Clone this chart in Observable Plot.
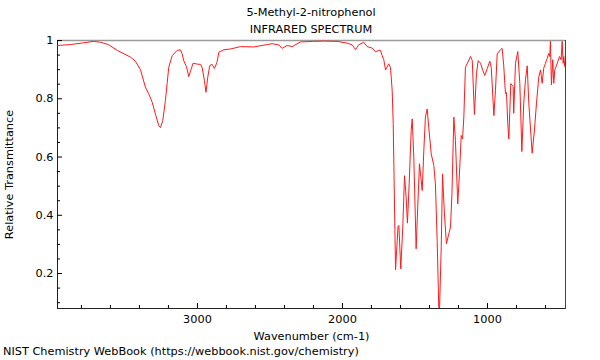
<!DOCTYPE html>
<html><head><meta charset="utf-8">
<script src="https://cdn.jsdelivr.net/npm/d3@7"></script>
<script src="https://cdn.jsdelivr.net/npm/@observablehq/plot@0.6"></script>
<style>
body{margin:0;background:#fff;font-family:"DejaVu Sans",sans-serif;color:#000}
#title{box-sizing:border-box;height:36px;width:600px;padding:4px 35px 0 57px;text-align:center;font-size:11.3px;line-height:17px;overflow:visible}
#caption{box-sizing:border-box;height:18px;padding:1px 0 0 3px;font-size:11.3px;line-height:17px;white-space:nowrap}
</style></head><body>
<div id="title"><div>5-Methyl-2-nitrophenol</div><div>INFRARED SPECTRUM</div></div>
<div id="chart"></div>
<div id="caption">NIST Chemistry WebBook (https://webbook.nist.gov/chemistry)</div>
<script>
const wavenumber = [3963,3876,3786,3717,3669,3614,3552,3462,3428,3393,
3359,3336,3312,3290,3267,3255,3239,3221,3209,3198,
3174,3140,3117,3106,3094,3076,3060,3045,3030,3002,
2979,2968,2952,2941,2929,2915,2899,2883,2866,2852,
2819,2772,2703,2612,2519,2485,2439,2416,2381,2347,
2290,2200,2131,2037,1968,1933,1910,1888,1853,1830,
1795,1772,1750,1738,1726,1715,1703,1681,1669,1657,
1650,1641,1634,1617,1611,1598,1584,1572,1561,1552,
1540,1526,1519,1508,1492,1481,1469,1450,1439,1428,
1416,1405,1388,1370,1359,1347,1336,1331,1319,1310,
1297,1283,1267,1255,1245,1232,1221,1205,1191,1181,
1172,1163,1152,1136,1117,1105,1090,1076,1064,1048,
1032,1019,1002,984,974,956,945,933,910,899,
888,876,869,860,853,839,823,819,807,791,
777,763,750,738,726,715,692,676,662,646,
634,623,612,600,588,577,570,566,559,550,
543,536,526,515,503,492,485,478,474,467,
462];
const transmittance = [0.983,0.986,0.992,0.997,0.994,0.986,0.966,0.943,0.929,0.900,
0.840,0.817,0.788,0.748,0.708,0.701,0.725,0.794,0.852,0.908,
0.948,0.966,0.968,0.955,0.930,0.911,0.876,0.900,0.922,0.919,
0.918,0.908,0.863,0.822,0.874,0.914,0.918,0.904,0.924,0.960,
0.968,0.971,0.979,0.978,0.986,0.989,0.985,0.973,0.983,0.979,
0.995,0.997,0.998,0.997,0.991,0.985,0.969,0.985,0.994,0.979,
0.974,0.961,0.966,0.966,0.948,0.934,0.899,0.920,0.908,0.828,
0.715,0.428,0.213,0.361,0.365,0.216,0.359,0.536,0.462,0.373,
0.508,0.691,0.731,0.599,0.285,0.428,0.577,0.485,0.622,0.737,
0.765,0.702,0.611,0.571,0.508,0.313,0.084,0.073,0.290,0.542,
0.405,0.302,0.336,0.359,0.474,0.737,0.657,0.439,0.565,0.674,
0.662,0.737,0.908,0.925,0.945,0.931,0.746,0.886,0.931,0.922,
0.897,0.880,0.903,0.929,0.908,0.742,0.828,0.954,0.969,0.973,
0.914,0.818,0.821,0.714,0.662,0.852,0.842,0.750,0.922,0.962,
0.853,0.619,0.785,0.865,0.913,0.785,0.613,0.693,0.785,0.876,
0.899,0.853,0.905,0.922,0.939,0.956,0.945,0.997,0.848,0.934,
0.853,0.899,0.911,0.928,0.945,0.934,0.997,0.922,0.945,0.911,
0.934];
const xDomain = [3965, 462];
const yDomain = [0.08, 1];
const xMajor = [3000, 2000, 1000];
const xMinor = [3800, 3600, 3400, 3200, 2800, 2600, 2400, 2200, 1800, 1600, 1400, 1200, 800, 600];
const yMajor = [0.2, 0.4, 0.6, 0.8, 1];
const yMinor = [0.1, 0.15, 0.25, 0.3, 0.35, 0.45, 0.5, 0.55, 0.65, 0.7, 0.75, 0.85, 0.9, 0.95];
const xLabel = "Wavenumber (cm-1)";
const yLabel = "Relative Transmittance";

const spectrum = wavenumber.map((w, i) => ({w, t: transmittance[i]}));

const chart = Plot.plot({
  width: 600, height: 306,
  marginTop: 4, marginBottom: 34, marginLeft: 57, marginRight: 35,
  style: {fontFamily: "DejaVu Sans", fontSize: "11.3px", overflow: "visible", background: "white", color: "black"},
  x: {domain: xDomain, label: null},
  y: {domain: yDomain, label: null},
  marks: [
    Plot.frame({stroke: "#444"}),
    Plot.ruleY([yDomain[1]], {stroke: "#9a9a9a", strokeWidth: 1.6}),
    Plot.ruleY([yDomain[0]], {stroke: "#222"}),
    Plot.ruleX([xDomain[0]], {stroke: "#222"}),
    Plot.line(spectrum, {x: "w", y: "t", stroke: "#ff1a1a", strokeWidth: 1, clip: true}),
    Plot.axisX(xMinor, {anchor: "bottom", tickSize: -3, fill: "none", label: null}),
    Plot.axisX(xMajor, {anchor: "bottom", tickSize: -5, tickPadding: 11, tickFormat: "d",
      label: xLabel, labelAnchor: "center", labelOffset: 31, labelArrow: "none"}),
    Plot.axisY(yMinor, {anchor: "left", tickSize: -3, fill: "none", label: null}),
    Plot.axisY(yMajor, {anchor: "left", tickSize: -5, tickPadding: 9,
      tickFormat: d => d === 1 ? "1" : d.toFixed(1),
      label: yLabel, labelAnchor: "center", labelOffset: 53, labelArrow: "none"})
  ]
});
document.getElementById("chart").appendChild(chart);
</script>
</body></html>
